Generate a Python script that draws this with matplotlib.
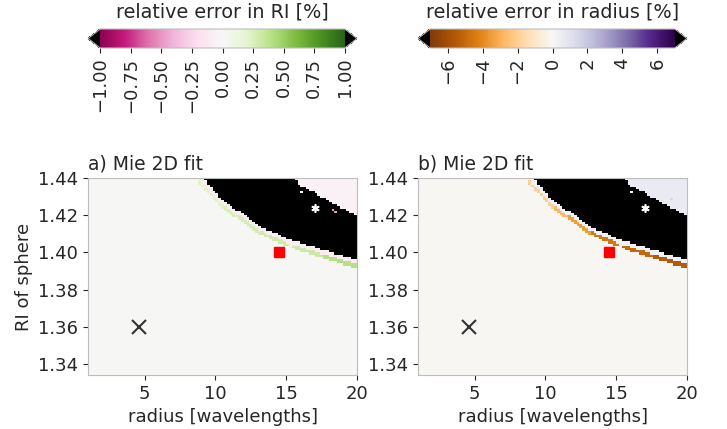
import numpy as np
import matplotlib.pyplot as plt
from matplotlib.path import Path
from matplotlib.colors import Normalize

# fit grid: radius [wavelengths] x RI of sphere (cell edges)
radius_edges = np.linspace(1.0, 20.0, 96)
ri_edges = np.linspace(1.334, 1.44, 91)

# region where the 2D fit failed (error beyond the colour range)
fail_r = [9.0, 10.6, 11.7, 13.2, 15.3, 17.6, 20.2, 20.2, 18.3, 16.0, 15.4, 15.4, 9.0]
fail_n = [1.4405, 1.4273, 1.4219, 1.4138, 1.4067, 1.4013, 1.3955,
          1.4185, 1.4264, 1.4362, 1.4405, 1.446, 1.446]

# corner above the failed region
corner_r = [15.4, 16.0, 18.3, 20.2, 20.2, 15.4]
corner_n = [1.4405, 1.4362, 1.4264, 1.4185, 1.446, 1.446]

# thin band of biased fits just below the failed region
band_r = [8.8, 10.6, 11.7, 13.2, 15.3, 17.6, 20.2]
band_top = [1.4392, 1.4250, 1.4195, 1.4115, 1.4045, 1.3990, 1.3933]
band_bot = [1.4372, 1.4228, 1.4172, 1.4093, 1.4023, 1.3968, 1.3908]
band_ri_err = [0.22, 0.25, 0.28, 0.30, 0.32, 0.40]
band_rad_err = [-2.0, -2.8, -3.5, -4.5, -5.0, -5.5]

# isolated cells
spot_r = [9.3, 16.1, 18.3, 18.6, 19.0]
spot_n = [1.4388, 1.4325, 1.4233, 1.4217, 1.4285]
spot_ri_err = [0.0, 0.0, -0.5, -0.5, -0.1]
spot_rad_err = [0.0, 0.0, -9.0, -9.0, 1.5]

# error levels of the remaining regions: (RI [%], radius [%])
background_err = (0.01, -0.1)
corner_err = (-0.05, 0.6)
gap_err = (-0.1, 0.3)
fail_err = (5.0, -20.0)

# markers
square_pos = (14.5, 1.400)
cross_pos = (4.6, 1.360)
star_pos = (17.0, 1.424)

rc = 0.5 * (radius_edges[1:] + radius_edges[:-1])
nc = 0.5 * (ri_edges[1:] + ri_edges[:-1])
R, N = np.meshgrid(rc, nc)
pts = np.column_stack([R.ravel(), N.ravel()])


def inside(xs, ys):
    return Path(np.column_stack([xs, ys])).contains_points(pts).reshape(R.shape)


def error_map(k):
    field = np.full(R.shape, background_err[k])
    field[inside(corner_r, corner_n)] = corner_err[k]
    gap_x = band_r + fail_r[:7][::-1]
    gap_y = band_bot + fail_n[:7][::-1]
    field[inside(gap_x, gap_y)] = gap_err[k]
    vals = band_ri_err if k == 0 else band_rad_err
    for i in range(len(band_r) - 1):
        xs = [band_r[i], band_r[i + 1], band_r[i + 1], band_r[i]]
        ys = [band_top[i], band_top[i + 1], band_bot[i + 1], band_bot[i]]
        field[inside(xs, ys)] = vals[i]
    field[inside(fail_r, fail_n)] = fail_err[k]
    svals = spot_ri_err if k == 0 else spot_rad_err
    for r, n, v in zip(spot_r, spot_n, svals):
        i = np.argmin(abs(nc - n))
        j = np.argmin(abs(rc - r))
        field[i, j] = v
    return field


text_col = '#262626'
plt.rcParams.update({'font.size': 13, 'text.color': text_col,
                     'axes.labelcolor': text_col, 'xtick.color': text_col,
                     'ytick.color': text_col})

W, H = 727, 429
fig = plt.figure(figsize=(W / 100, H / 100), dpi=100)


def box(x0, y0, x1, y1):
    return [x0 / W, 1 - y1 / H, (x1 - x0) / W, (y1 - y0) / H]


panels = [
    dict(ax=box(88, 178, 357, 375), cax=box(88, 29, 357, 48), cmap='PiYG',
         vmax=1.0, ticks=np.arange(-1, 1.01, 0.25),
         label='relative error in RI [%]', title='a) Mie 2D fit'),
    dict(ax=box(418, 178, 687, 375), cax=box(418, 29, 687, 48), cmap='PuOr',
         vmax=7.0, ticks=np.arange(-6, 7, 2),
         label='relative error in radius [%]', title='b) Mie 2D fit'),
]

for k, p in enumerate(panels):
    ax = fig.add_axes(p['ax'])
    cmap = plt.get_cmap(p['cmap']).copy()
    cmap.set_over('k')
    cmap.set_under('k')
    norm = Normalize(-p['vmax'], p['vmax'])
    mesh = ax.pcolormesh(radius_edges, ri_edges, error_map(k), cmap=cmap, norm=norm)
    ax.plot(*square_pos, 's', color='red', ms=6.5)
    ax.plot(*cross_pos, 'x', color='#333333', ms=10, mew=1.5)
    ax.plot(*star_pos, marker=(6, 2, 0), color='white', ms=6, mew=1.2, ls='none')
    ax.set_xlim(1.0, 20.0)
    ax.set_ylim(1.334, 1.44)
    ax.set_xticks([5, 10, 15, 20])
    ax.set_yticks([1.34, 1.36, 1.38, 1.40, 1.42, 1.44])
    ax.set_xlabel('radius [wavelengths]')
    if k == 0:
        ax.set_ylabel('RI of sphere')
    ax.set_title(p['title'], loc='left', fontsize=13.5, pad=6)
    for s in ax.spines.values():
        s.set_color('#bdbdbd')

    cax = fig.add_axes(p['cax'])
    cb = fig.colorbar(mesh, cax=cax, orientation='horizontal', extend='both',
                      ticks=p['ticks'])
    cb.outline.set_edgecolor('#bdbdbd')
    cax.tick_params(labelrotation=90)
    cax.set_title(p['label'], fontsize=13.8, pad=8)

fig.savefig('out.png', dpi=100)
